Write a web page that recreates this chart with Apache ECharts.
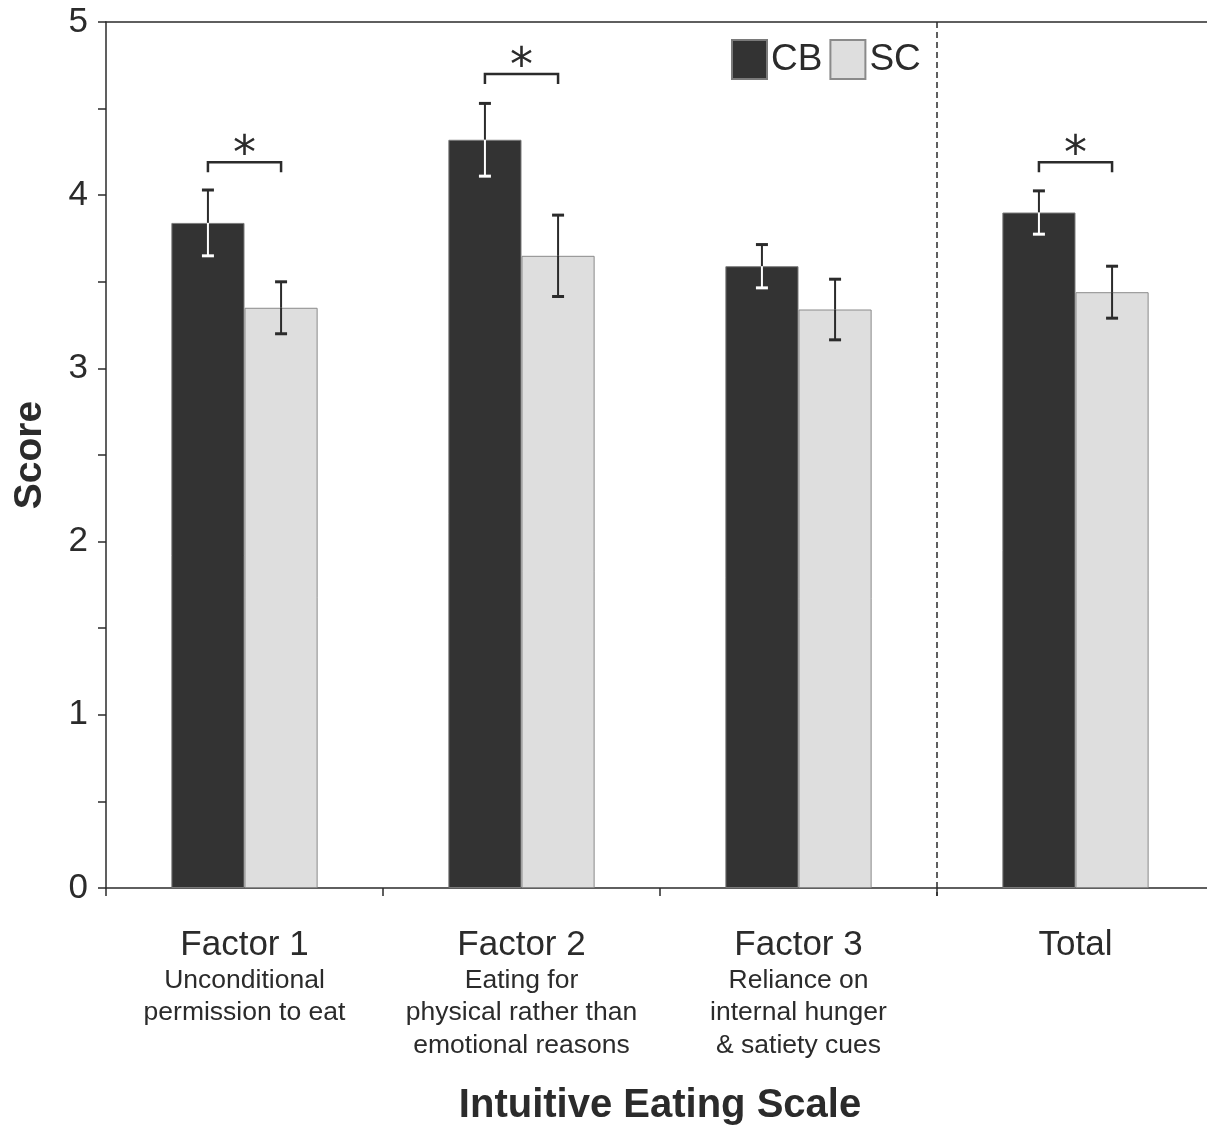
<!DOCTYPE html>
<html>
<head>
<meta charset="utf-8">
<script src="https://cdn.jsdelivr.net/npm/echarts@6/dist/echarts.min.js"></script>
<style>
  html, body { margin: 0; padding: 0; background: #fff; }
  #chart { width: 1207px; height: 1125px; }
</style>
</head>
<body>
<div id="chart"></div>
<script>
// Intuitive Eating Scale scores by group (mean ± error)
const categories = ['Factor 1', 'Factor 2', 'Factor 3', 'Total'];
const subtitles = [
  ['Unconditional', 'permission to eat'],
  ['Eating for', 'physical rather than', 'emotional reasons'],
  ['Reliance on', 'internal hunger', '& satiety cues'],
  []
];
const cbMean = [3.84, 4.32, 3.59, 3.90];
const cbErr  = [0.19, 0.21, 0.125, 0.125];
const scMean = [3.35, 3.65, 3.34, 3.44];
const scErr  = [0.15, 0.235, 0.175, 0.15];
// significance brackets: category index and bracket height
const sigIndex = [0, 1, 3];
const sigLevel = [4.19, 4.70, 4.19];
// a dashed separator drawn before this category
const separatorBefore = [3];
const yTicks = [0, 1, 2, 3, 4, 5];

const FONT = '"Liberation Sans", Arial, Helvetica, sans-serif';
const INK = '#2b2b2b';
const BAR_FRAC = 0.264;  // share of the category band taken by one bar

function barCenter(api, i, side) {
  const band = api.size([1, 0])[0];
  const w = band * BAR_FRAC;
  return api.coord([i, 0])[0] + side * w / 2;
}

function errorBars(side, lowerColor) {
  return function (params, api) {
    const i = api.value(0), m = api.value(1), e = api.value(2);
    const x = barCenter(api, i, side);
    const yT = api.coord([i, m + e])[1];
    const yM = api.coord([i, m])[1];
    const yB = api.coord([i, m - e])[1];
    const half = 6;
    const up = { stroke: INK, lineWidth: 2 };
    const lo = { stroke: lowerColor, lineWidth: 2 };
    return {
      type: 'group',
      children: [
        { type: 'line', shape: { x1: x, y1: yT, x2: x, y2: yM }, style: up },
        { type: 'line', shape: { x1: x - half, y1: yT, x2: x + half, y2: yT }, style: { stroke: INK, lineWidth: 3 } },
        { type: 'line', shape: { x1: x, y1: yM, x2: x, y2: yB }, style: lo },
        { type: 'line', shape: { x1: x - half, y1: yB, x2: x + half, y2: yB }, style: { stroke: lowerColor, lineWidth: 3 } }
      ]
    };
  };
}

const labelRich = {
  head: { fontFamily: FONT, fontSize: 35, color: INK, lineHeight: 38 },
  sub: { fontFamily: FONT, fontSize: 26.5, color: INK, lineHeight: 32.5 }
};

const chart = echarts.init(document.getElementById('chart'));
chart.setOption({
  animation: false,
  backgroundColor: '#fff',
  textStyle: { fontFamily: FONT },
  grid: { left: 106, right: -7, top: 22, bottom: 237, containLabel: false, outerBoundsMode: 'none' },
  legend: {
    data: ['CB', 'SC'],
    left: 726, top: 34,
    itemWidth: 35, itemHeight: 39, itemGap: 7,
    textStyle: { fontFamily: FONT, fontSize: 37, color: INK, padding: [0, 0, 0, -1] },
    icon: 'rect'
  },
  xAxis: [{
    type: 'category',
    data: categories,
    boundaryGap: true,
    axisLine: { lineStyle: { color: INK, width: 1.5 } },
    axisTick: { show: true, length: 8, inside: false, interval: 0, lineStyle: { color: INK, width: 1.5 } },
    axisLabel: {
      interval: 0,
      margin: 38,
      formatter: function (v, i) {
        const lines = ['{head|' + v + '}'];
        subtitles[i].forEach(s => lines.push('{sub|' + s + '}'));
        return lines.join('\n');
      },
      rich: labelRich,
      verticalAlign: 'top'
    },
    name: 'Intuitive Eating Scale',
    nameLocation: 'middle',
    nameGap: 198,
    nameTextStyle: { fontFamily: FONT, fontSize: 40, fontWeight: 'bold', color: INK }
  }, {
    type: 'category',
    data: categories,
    position: 'top',
    axisLine: { show: true, lineStyle: { color: INK, width: 1.5 } },
    axisTick: { show: false },
    axisLabel: { show: false }
  }],
  yAxis: {
    type: 'value',
    min: 0, max: 5, interval: 0.5,
    axisLine: { show: true, lineStyle: { color: INK, width: 1.5 } },
    axisTick: { show: true, length: 8, lineStyle: { color: INK, width: 1.5 } },
    splitLine: { show: false },
    axisLabel: {
      margin: 18,
      fontFamily: FONT, fontSize: 35, color: INK,
      formatter: v => (yTicks.indexOf(v) >= 0 ? String(v) : '')
    },
    name: 'Score',
    nameLocation: 'middle',
    nameGap: 56,
    nameRotate: 90,
    nameTextStyle: { fontFamily: FONT, fontSize: 39, fontWeight: 'bold', color: INK }
  },
  series: [
    {
      name: 'CB', type: 'bar', data: cbMean,
      barWidth: (BAR_FRAC * 100) + '%', barGap: '0%',
      itemStyle: { color: '#333333', borderColor: '#7a7a7a', borderWidth: 1 }
    },
    {
      name: 'SC', type: 'bar', data: scMean,
      barWidth: (BAR_FRAC * 100) + '%', barGap: '0%',
      itemStyle: { color: '#dedede', borderColor: '#8a8a8a', borderWidth: 1 }
    },
    {
      type: 'custom', name: 'cbErr',
      data: cbMean.map((m, i) => [i, m, cbErr[i]]),
      encode: { x: 0, y: 1 },
      renderItem: errorBars(-1, '#ffffff'),
      z: 5
    },
    {
      type: 'custom', name: 'scErr',
      data: scMean.map((m, i) => [i, m, scErr[i]]),
      encode: { x: 0, y: 1 },
      renderItem: errorBars(1, INK),
      z: 5
    },
    {
      type: 'custom', name: 'sig',
      data: sigIndex.map((c, k) => [c, sigLevel[k]]),
      encode: { x: 0, y: 1 },
      renderItem: function (params, api) {
        const i = api.value(0), h = api.value(1);
        const x1 = barCenter(api, i, -1), x2 = barCenter(api, i, 1);
        const y = api.coord([i, h])[1];
        const st = { stroke: INK, lineWidth: 2.5, fill: null };
        return {
          type: 'group',
          children: [
            { type: 'polyline', shape: { points: [[x1, y + 10], [x1, y], [x2, y], [x2, y + 10]] }, style: st },
            { type: 'text', style: { text: '*', x: (x1 + x2) / 2, y: y + 17, align: 'center', verticalAlign: 'bottom',
              fontFamily: '"DejaVu Sans", sans-serif', fontSize: 46, fill: INK } }
          ]
        };
      },
      z: 5
    },
    {
      type: 'custom', name: 'separator',
      data: separatorBefore.map(c => [c, 5]),
      encode: { x: 0, y: 1 },
      renderItem: function (params, api) {
        const i = api.value(0);
        const band = api.size([1, 0])[0];
        const x = api.coord([i, 0])[0] - band / 2;
        const yTop = api.coord([i, 5])[1];
        const yBot = api.coord([i, 0])[1] + 8;
        return { type: 'line', shape: { x1: x, y1: yTop, x2: x, y2: yBot },
          style: { stroke: INK, lineWidth: 1.5, lineDash: [6, 4] } };
      },
      z: 4
    }
  ]
});
</script>
</body>
</html>
